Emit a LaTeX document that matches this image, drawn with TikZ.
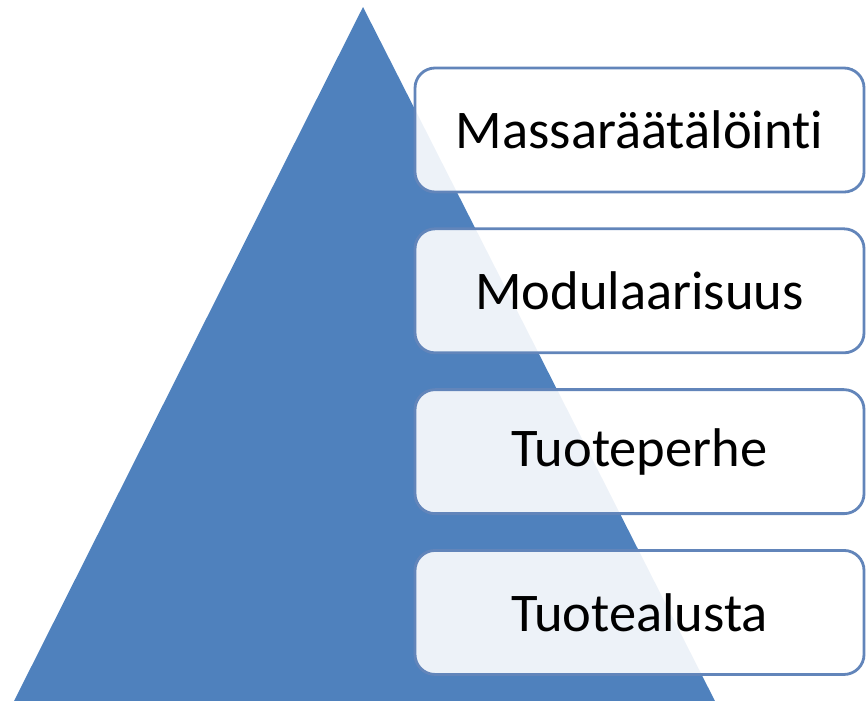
\documentclass[tikz,border=0pt]{standalone}
\usepackage{fontspec}
\setmainfont{Carlito}[Ligatures=NoCommon]
\usepackage{xcolor}
\usetikzlibrary{positioning}
\definecolor{pyrblue}{RGB}{79,129,189}
\definecolor{edgeblue}{RGB}{98,133,186}
\tikzset{every picture/.append style={thick}}
\tikzset{
    level/.style={draw=edgeblue, line width=0.8pt, fill=white, fill opacity=0.9,
        text opacity=1, rounded corners=0.2cm, minimum width=4.49cm,
        minimum height=1.24cm, inner sep=0pt,
        font=\fontsize{15.5pt}{18pt}\selectfont}
}

\begin{document}
\begin{tikzpicture}
    \useasboundingbox (0,0) rectangle (8.67,7);

    % Pyramid
    \draw[fill=pyrblue, draw=none] (3.63,6.93) -- (0.12,-0.05) -- (7.17,-0.05) -- cycle;

    % Levels, top to bottom
    \node[level] (mass) at (6.395,5.70) {Massaräätälöinti};
    \node[level, below=0.34cm of mass] (modu) {Modulaarisuus};
    \node[level, below=0.34cm of modu] (perhe) {Tuoteperhe};
    \node[level, below=0.34cm of perhe] (alusta) {Tuotealusta};
\end{tikzpicture}
\end{document}
